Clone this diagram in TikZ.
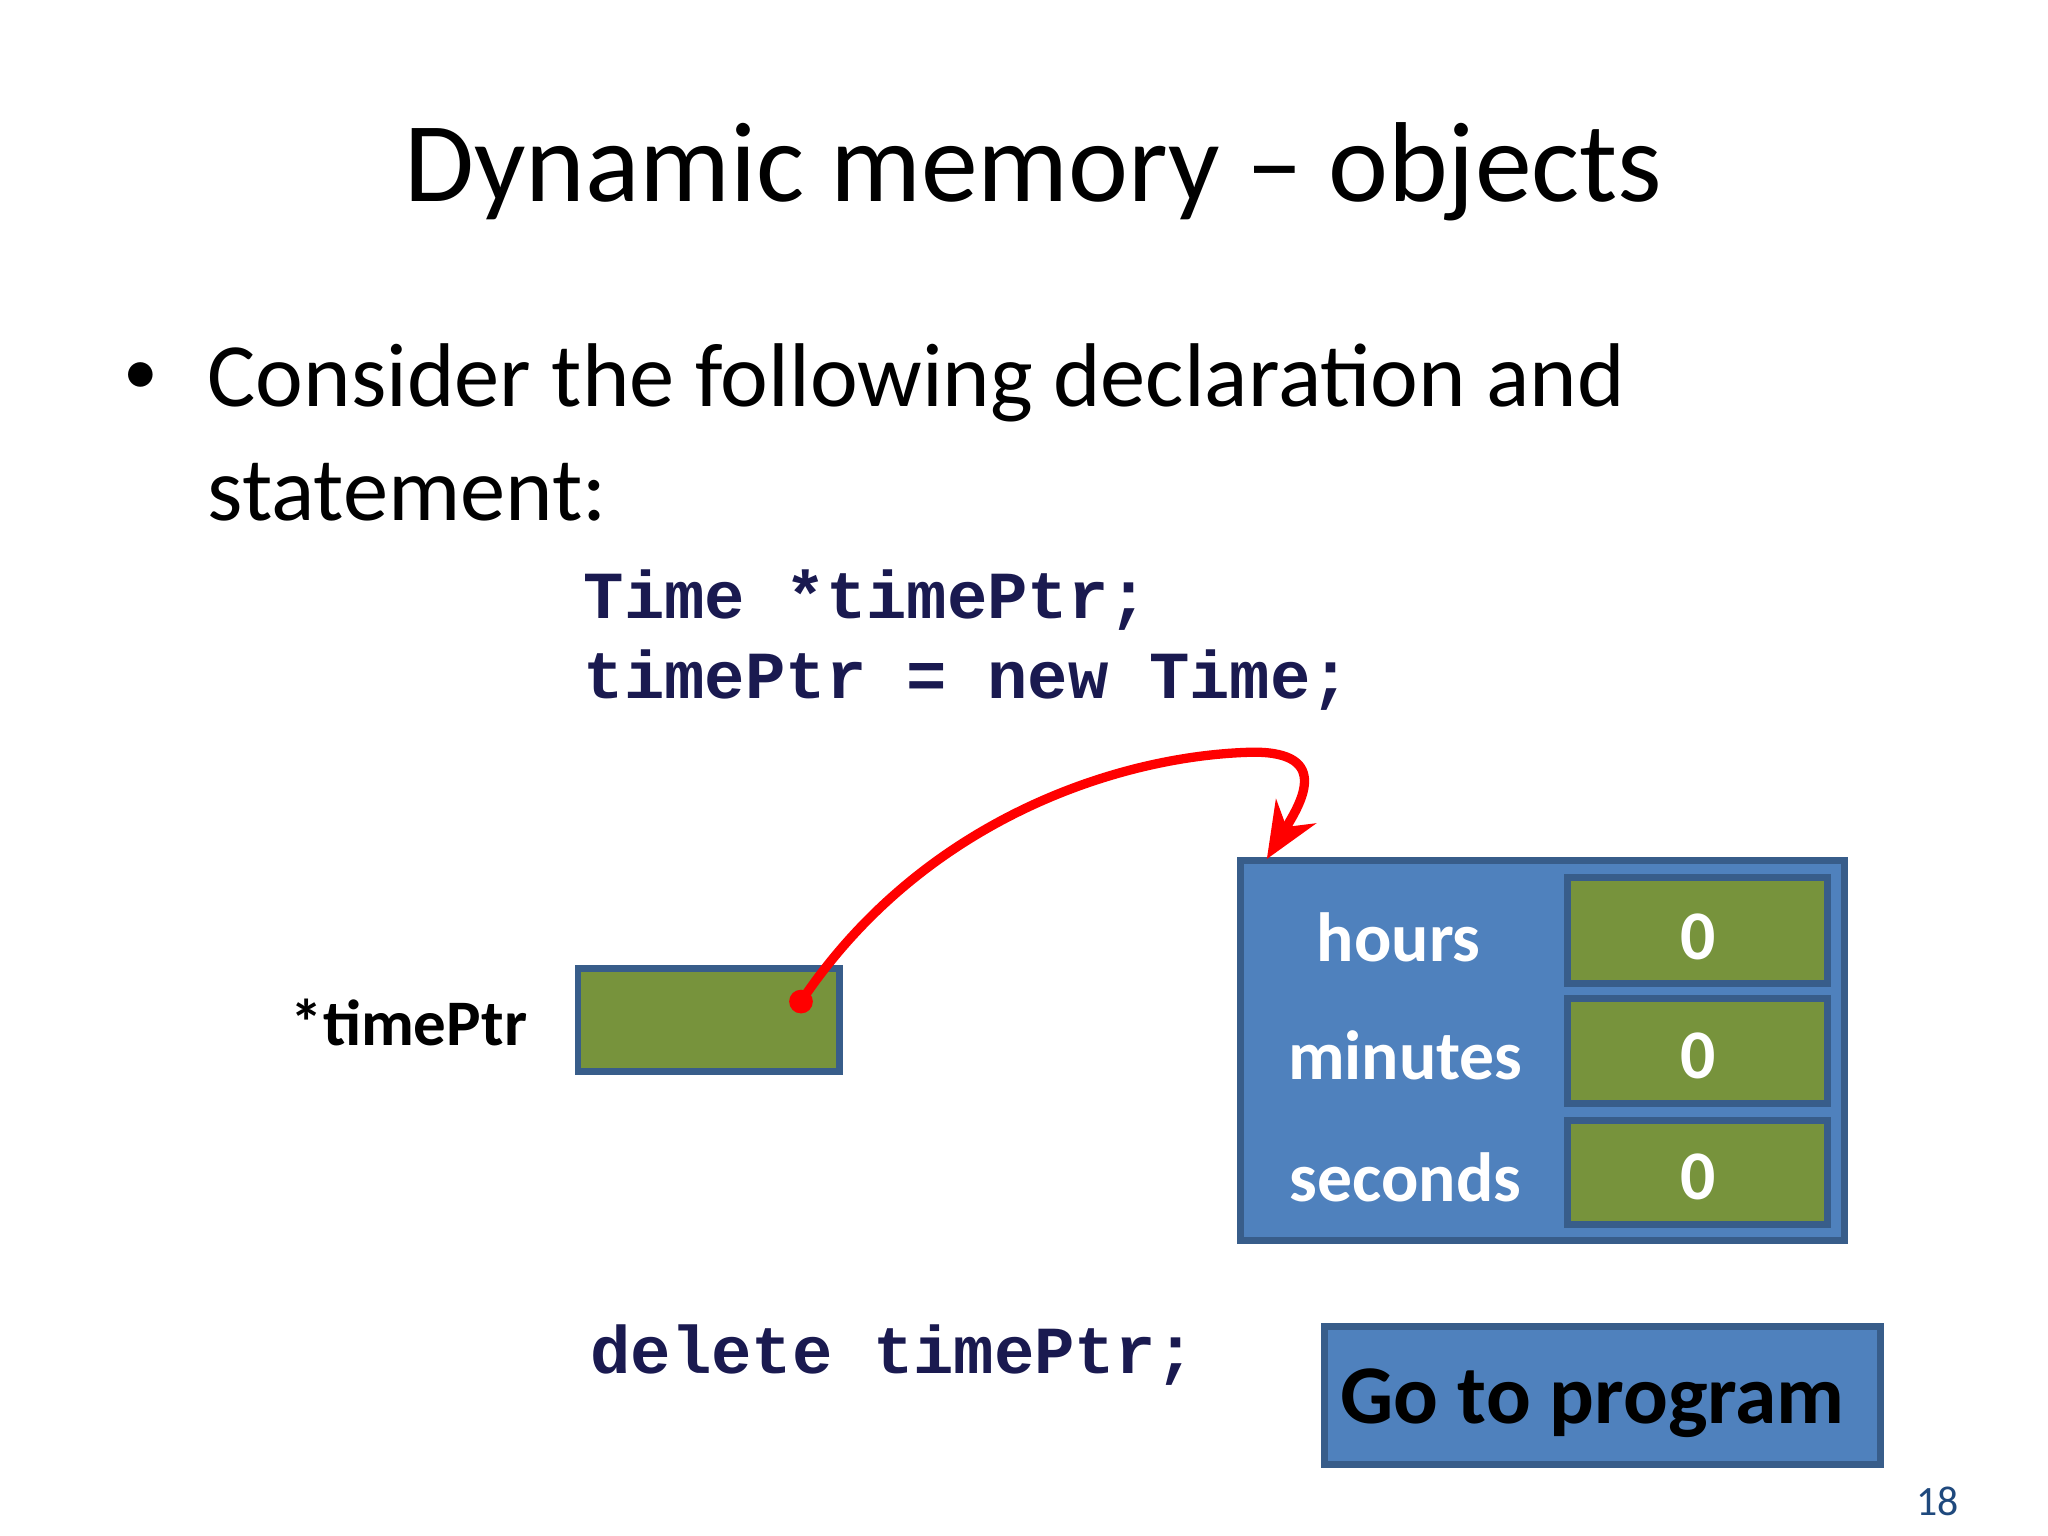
\documentclass[tikz,border=0pt]{standalone}
\usepackage{fontspec}
\setmainfont{Carlito}
\newfontfamily\codefont{Liberation Mono}
\usetikzlibrary{arrows.meta}
\definecolor{pgreen}{HTML}{77933C}
\definecolor{pblue}{HTML}{4F81BD}
\definecolor{pborder}{HTML}{385D8A}
\definecolor{codecol}{HTML}{1A1A50}
\definecolor{numcol}{HTML}{1F497D}
\tikzset{
 gbox/.style={draw=pborder,line width=1.5pt,fill=pgreen},
 wlab/.style={text=white,font=\bfseries\fontsize{15}{18}\selectfont},
 code/.style={anchor=west,text=codecol,font=\codefont\bfseries\fontsize{14.5}{17}\selectfont},
}
\begin{document}
\begin{tikzpicture}[x=0.01cm,y=-0.01cm]
\useasboundingbox (0,0) rectangle (1552,1164);
\node (title) at (783,130) {\fontsize{24.5}{29}\selectfont Dynamic memory – objects};
\node (bul) at (107,287) {\fontsize{15}{18}\selectfont •};
\node[anchor=west] (l1) at (145,290) {\fontsize{19.5}{23}\selectfont Consider the following declaration and};
\node[anchor=west] (l2) at (145,373) {\fontsize{19.5}{23}\selectfont statement:};
\node[code] (c1) at (430,455) {Time *timePtr;};
\node[code] (c2) at (430,515) {timePtr = new Time;};
\node[code] (c3) at (435,1027) {delete timePtr;};
\node[anchor=east,font=\bfseries\fontsize{14}{17}\selectfont] (lab) at (412,775) {*timePtr};
\draw[gbox] (438,734) rectangle (636,812);
\coordinate (p) at (607,759);
\draw[pborder,line width=1.5pt,fill=pblue] (940,652) rectangle (1398,940);
\coordinate (t) at (960,651);
\draw[gbox] (1188,665) rectangle (1385,745);
\draw[gbox] (1188,757) rectangle (1385,836);
\draw[gbox] (1188,849) rectangle (1385,928);
\node[wlab] (h) at (1060,710) {hours};
\node[wlab] (m) at (1065,800) {minutes};
\node[wlab] (s) at (1065,892) {seconds};
\node[wlab] (z1) at (1287,710) {0};
\node[wlab] (z2) at (1287,800) {0};
\node[wlab] (z3) at (1287,892) {0};
\draw[red,line width=2pt,-{Stealth[length=12pt,width=10pt]}] (p) .. controls (700,620) and (850,572) .. (950,570) .. controls (1010,570) and (985,610) .. (t);
\fill[red] (p) circle (9);
\draw[pborder,line width=1.5pt,fill=pblue] (1004,1005) rectangle (1425,1110);
\node[font=\bfseries\fontsize{18}{22}\selectfont] (go) at (1207,1063) {Go to program};
\node[text=numcol,font=\fontsize{9}{11}\selectfont] (pg) at (1468,1138) {18};
\end{tikzpicture}
\end{document}
